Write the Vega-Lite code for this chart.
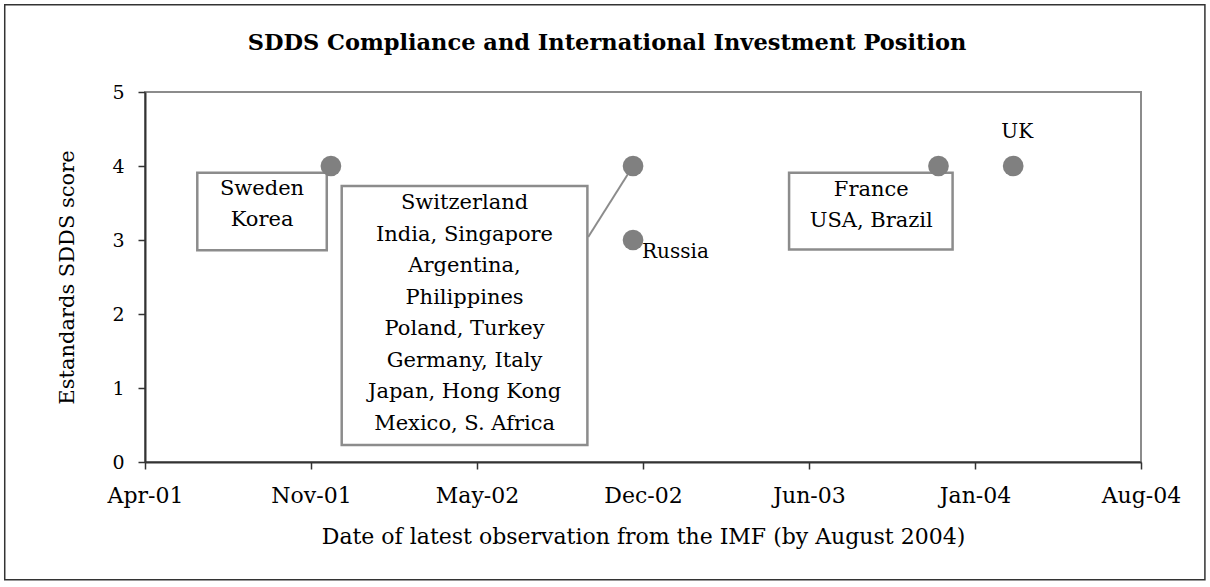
{
  "$schema": "https://vega.github.io/schema/vega-lite/v6.json",
  "width": 996,
  "height": 370,
  "autosize": "none",
  "padding": {"left": 145, "top": 92, "right": 69, "bottom": 125},
  "background": "white",
  "title": {
    "text": "SDDS Compliance and International Investment Position",
    "font": "DejaVu Serif",
    "fontSize": 22.5,
    "fontWeight": "bold",
    "anchor": "middle",
    "offset": -51,
    "dx": -36,
    "color": "black"
  },
  "config": {
    "view": {"stroke": "#8c8c8c", "strokeWidth": 2},
    "axis": {
      "grid": false,
      "domainColor": "#333333",
      "domainWidth": 2,
      "tickColor": "#333333",
      "tickWidth": 1.5,
      "tickSize": 7,
      "labelFont": "DejaVu Serif",
      "labelFontSize": 20,
      "labelColor": "black",
      "labelFlush": false,
      "labelOverlap": false,
      "titleFont": "DejaVu Serif",
      "titleFontSize": 21,
      "titleFontWeight": "normal",
      "titleColor": "black"
    }
  },
  "datasets": {
    "points": [
      {"date": "2001-11-29", "score": 4, "label": "Sweden, Korea"},
      {"date": "2002-11-28", "score": 4, "label": "Switzerland, India, Singapore, Argentina, Philippines, Poland, Turkey, Germany, Italy, Japan, Hong Kong, Mexico, S. Africa"},
      {"date": "2002-11-28", "score": 3, "label": "Russia"},
      {"date": "2003-12-01", "score": 4, "label": "France, USA, Brazil"},
      {"date": "2004-02-29", "score": 4, "label": "UK"}
    ],
    "boxes": [
      {"date": "2001-06-21", "date2": "2001-11-24", "score": 2.86, "score2": 3.91},
      {"date": "2001-12-12", "date2": "2002-10-04", "score": 0.23, "score2": 3.73},
      {"date": "2003-06-04", "date2": "2003-12-18", "score": 2.87, "score2": 3.91}
    ],
    "boxLabels": [
      {"date": "2001-09-07", "score": 3.69, "lines": ["Sweden", "Korea"]},
      {"date": "2002-05-09", "score": 3.50, "lines": ["Switzerland", "India, Singapore", "Argentina,", "Philippines", "Poland, Turkey", "Germany, Italy", "Japan, Hong Kong", "Mexico, S. Africa"]},
      {"date": "2003-09-11", "score": 3.68, "lines": ["France", "USA, Brazil"]}
    ],
    "connector": [
      {"date": "2002-10-05", "score": 3.04},
      {"date": "2002-11-28", "score": 4}
    ],
    "frame": [
      {"date": "2000-11-01", "date2": "2004-10-17", "score": 6.18, "score2": -1.59}
    ]
  },
  "encoding": {
    "x": {
      "field": "date",
      "type": "temporal",
      "scale": {
        "type": "utc",
        "domain": [
          {"year": 2001, "month": 4, "date": 19, "utc": true},
          {"year": 2004, "month": 8, "date": 1, "utc": true}
        ]
      },
      "axis": {
        "title": "Date of latest observation from the IMF (by August 2004)",
        "values": [
          {"year": 2001, "month": 4, "date": 19, "utc": true},
          {"year": 2001, "month": 11, "date": 5, "utc": true},
          {"year": 2002, "month": 5, "date": 24, "utc": true},
          {"year": 2002, "month": 12, "date": 10, "utc": true},
          {"year": 2003, "month": 6, "date": 28, "utc": true},
          {"year": 2004, "month": 1, "date": 14, "utc": true},
          {"year": 2004, "month": 8, "date": 1, "utc": true}
        ],
        "format": "%b-%y",
        "labelFontSize": 22,
        "labelPadding": 16,
        "titlePadding": 20,
        "titleFontSize": 22
      }
    },
    "y": {
      "field": "score",
      "type": "quantitative",
      "scale": {"domain": [0, 5], "nice": false},
      "axis": {
        "title": "Estandards SDDS score",
        "values": [0, 1, 2, 3, 4, 5],
        "labelFontSize": 19,
        "labelPadding": 14,
        "titlePadding": 34
      }
    }
  },
  "layer": [
    {
      "data": {"name": "frame"},
      "mark": {"type": "rect", "fill": "transparent", "stroke": "#333333", "strokeWidth": 1.5, "clip": false},
      "encoding": {
        "x2": {"field": "date2"},
        "y2": {"field": "score2"}
      }
    },
    {
      "data": {"name": "connector"},
      "mark": {"type": "line", "color": "#8c8c8c", "strokeWidth": 2}
    },
    {
      "data": {"name": "boxes"},
      "mark": {"type": "rect", "fill": "white", "stroke": "#8c8c8c", "strokeWidth": 2.5},
      "encoding": {
        "x2": {"field": "date2"},
        "y2": {"field": "score2"}
      }
    },
    {
      "data": {"name": "boxLabels"},
      "mark": {"type": "text", "font": "DejaVu Serif", "fontSize": 21, "lineHeight": 31.5, "align": "center", "baseline": "middle", "color": "black"},
      "encoding": {"text": {"field": "lines"}}
    },
    {
      "data": {"name": "points"},
      "mark": {"type": "circle", "size": 430, "color": "#808080", "opacity": 1}
    },
    {
      "data": {"name": "points"},
      "transform": [{"filter": "datum.label == 'Russia'"}],
      "mark": {"type": "text", "font": "DejaVu Serif", "fontSize": 20, "align": "left", "baseline": "middle", "dx": 9, "dy": 12, "color": "black"},
      "encoding": {"text": {"field": "label"}}
    },
    {
      "data": {"name": "points"},
      "transform": [{"filter": "datum.label == 'UK'"}],
      "mark": {"type": "text", "font": "DejaVu Serif", "fontSize": 20, "align": "center", "baseline": "middle", "dx": 4, "dy": -34, "color": "black"},
      "encoding": {"text": {"field": "label"}}
    }
  ]
}
